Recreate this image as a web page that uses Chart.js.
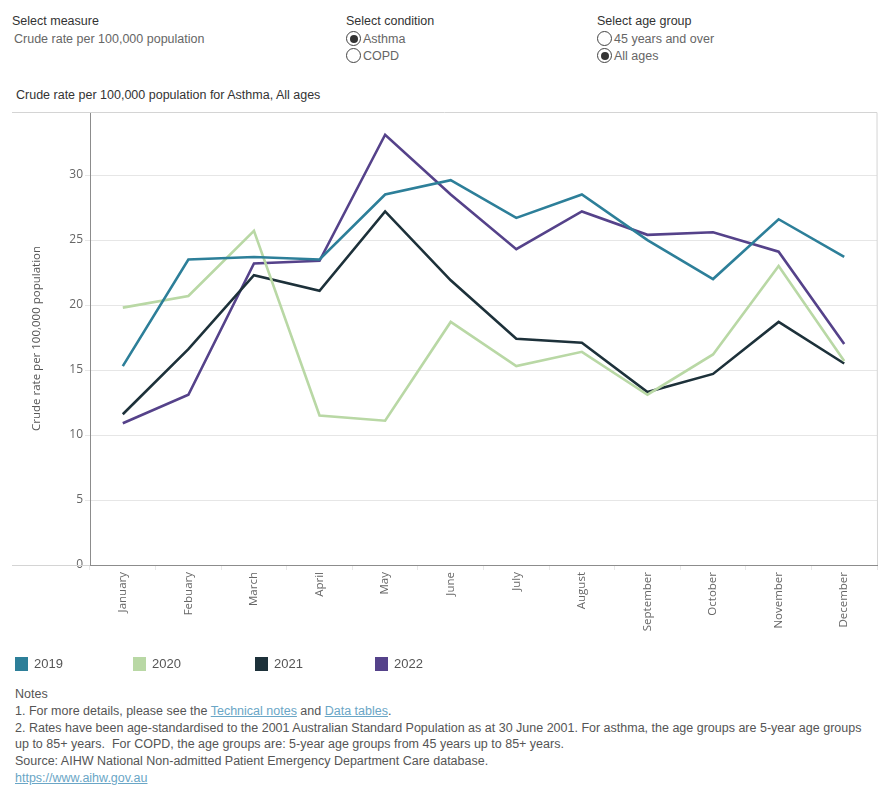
<!DOCTYPE html>
<html>
<head>
<meta charset="utf-8">
<script src="https://cdn.jsdelivr.net/npm/chart.js@4"></script>
<style>
  body { margin: 0; width: 890px; height: 800px; background: #fff; font-family: "Liberation Sans", Arial, sans-serif; color: #555; position: relative; overflow: hidden; }
  .abs { position: absolute; white-space: nowrap; }
  .hdr { font-size: 12.5px; color: #333; }
  .val { font-size: 12.5px; color: #666; }
  .radio { font-size: 12.5px; color: #666; display: flex; align-items: center; }
  .radio i { display: inline-block; width: 15px; height: 15px; border: 1px solid #444; border-radius: 50%; margin-right: 2px; box-sizing: border-box; position: relative; }
  .radio i.on::after { content: ""; position: absolute; left: 2.5px; top: 2.5px; width: 8px; height: 8px; border-radius: 50%; background: #333; }
  .title { font-size: 12.5px; color: #333; }
  .leg { font-size: 13px; color: #555; display: flex; align-items: center; }
  .leg b { display: inline-block; width: 13px; height: 14px; margin-right: 6px; }
  .notes { font-size: 12.5px; color: #555; line-height: 16.8px; }
  .notes a { color: #6aa6c6; text-decoration: underline; }
</style>
</head>
<body>
<div class="abs hdr" style="left:12px; top:14px;">Select measure</div>
<div class="abs val" style="left:14px; top:32px;">Crude rate per 100,000 population</div>

<div class="abs hdr" style="left:346px; top:14px;">Select condition</div>
<div class="abs radio" style="left:346px; top:31px;"><i class="on"></i>Asthma</div>
<div class="abs radio" style="left:346px; top:48px;"><i></i>COPD</div>

<div class="abs hdr" style="left:597px; top:14px;">Select age group</div>
<div class="abs radio" style="left:597px; top:31px;"><i></i>45 years and over</div>
<div class="abs radio" style="left:597px; top:48px;"><i class="on"></i>All ages</div>

<div class="abs title" style="left:16px; top:88px;">Crude rate per 100,000 population for Asthma, All ages</div>

<div class="abs" style="left:0; top:100px; width:890px; height:560px;">
  <canvas id="chart" width="890" height="560"></canvas>
</div>

<div class="abs" id="legend" style="left:0; top:656px; width:890px; height:18px;"></div>

<div class="abs notes" style="left:15px; top:686px;">
  Notes<br>
  1. For more details, please see the <a>Technical notes</a> and <a>Data tables</a>.<br>
  2. Rates have been age-standardised to the 2001 Australian Standard Population as at 30 June 2001. For asthma, the age groups are 5-year age groups<br>
  up to 85+ years.&nbsp; For COPD, the age groups are: 5-year age groups from 45 years up to 85+ years.<br>
  Source: AIHW National Non-admitted Patient Emergency Department Care database.<br>
  <a>https://www.aihw.gov.au</a>
</div>

<script>
const months = ['January', 'Febuary', 'March', 'April', 'May', 'June', 'July', 'August', 'September', 'October', 'November', 'December'];
const years = ['2019', '2020', '2021', '2022'];
const yearColors = ['#2d7f99', '#b9d8a5', '#1d313a', '#55428a'];

const rate2019 = [15.3, 23.5, 23.7, 23.5, 28.5, 29.6, 26.7, 28.5, 25.0, 22.0, 26.6, 23.7];
const rate2020 = [19.8, 20.7, 25.7, 11.5, 11.1, 18.7, 15.3, 16.4, 13.1, 16.2, 23.0, 15.7];
const rate2021 = [11.6, 16.6, 22.3, 21.1, 27.2, 21.9, 17.4, 17.1, 13.3, 14.7, 18.7, 15.5];
const rate2022 = [10.9, 13.1, 23.2, 23.4, 33.1, 28.5, 24.3, 27.2, 25.4, 25.6, 24.1, 17.0];
const rates = [rate2019, rate2020, rate2021, rate2022];

const yTicks = [0, 5, 10, 15, 20, 25, 30];
const yMax = 34.85;

// legend in html, same spacing as the reference
const legendX = [15, 133, 255, 375];
const legendDiv = document.getElementById('legend');
years.forEach((y, i) => {
    const item = document.createElement('div');
    item.className = 'leg';
    item.style.position = 'absolute';
    item.style.left = legendX[i] + 'px';
    item.style.top = '0px';
    item.innerHTML = `<b style="background:${yearColors[i]}"></b>${y}`;
    legendDiv.appendChild(item);
});

// top / right frame and the light lines that run left of the axis
const framePlugin = {
    id: 'frame',
    afterDraw(chart) {
        const a = chart.chartArea;
        const c = chart.ctx;
        c.save();
        c.lineWidth = 1;
        c.strokeStyle = '#d4d4d4';
        c.beginPath();
        c.moveTo(12, Math.round(a.top) + 0.5);
        c.lineTo(a.right, Math.round(a.top) + 0.5);
        c.lineTo(Math.round(a.right) + 0.5, a.bottom);
        c.moveTo(12, Math.round(a.bottom) + 0.5);
        c.lineTo(a.left, Math.round(a.bottom) + 0.5);
        c.stroke();
        c.restore();
    }
};

new Chart(document.getElementById('chart'), {
    type: 'line',
    data: {
        labels: months,
        datasets: years.map((y, i) => ({
            label: y,
            data: rates[i],
            borderColor: yearColors[i],
            backgroundColor: yearColors[i],
            borderWidth: 2.6,
            pointRadius: 0,
            tension: 0,
        }))
    },
    options: {
        responsive: false,
        animation: false,
        layout: { padding: { top: 12, right: 13, left: 0, bottom: 0 } },
        plugins: { legend: { display: false }, tooltip: { enabled: false } },
        scales: {
            x: {
                offset: true,
                grid: { offset: true, drawOnChartArea: false, tickLength: 5, color: '#e8e8e8' },
                border: { color: '#8c8c8c' },
                ticks: {
                    minRotation: 90, maxRotation: 90, autoSkip: false, padding: 2,
                    color: '#666', font: { family: 'Open Sans', size: 11.5 }
                },
                afterFit(scale) { scale.height = 95; }
            },
            y: {
                min: 0,
                max: yMax,
                afterBuildTicks(scale) { scale.ticks = yTicks.map(v => ({ value: v })); },
                grid: { color: '#e6e6e6', tickLength: 5 },
                border: { color: '#8c8c8c' },
                ticks: { color: '#666', padding: 2, font: { family: 'Open Sans', size: 12 } },
                title: {
                    display: true,
                    text: 'Crude rate per 100,000 population',
                    color: '#555',
                    font: { family: 'Open Sans', size: 11.5 },
                    padding: { top: 30, bottom: 0 }
                },
                afterFit(scale) { scale.width = 90; }
            }
        }
    },
    plugins: [framePlugin]
});
</script>
</body>
</html>
